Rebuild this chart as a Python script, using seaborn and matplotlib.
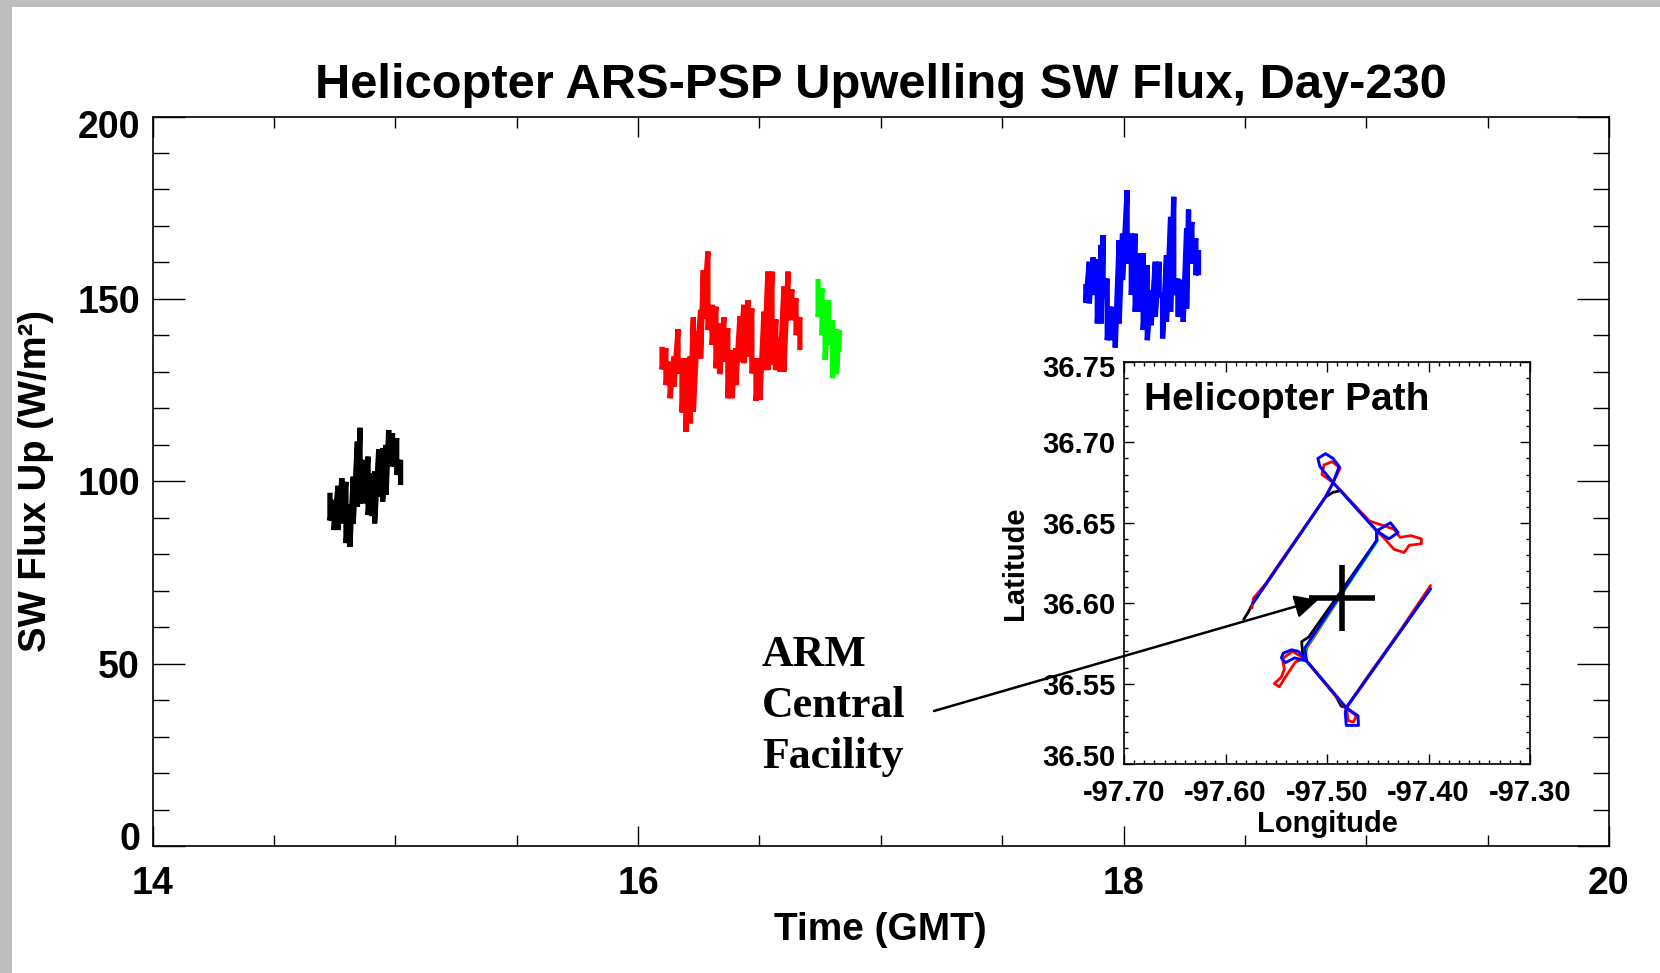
# %%
import matplotlib
matplotlib.use('Agg')
import matplotlib.pyplot as plt
import pandas as pd
import seaborn as sns
from matplotlib.patches import Rectangle
from matplotlib.ticker import MultipleLocator
from matplotlib.transforms import ScaledTranslation

# flux segments: time plus the top and bottom of the noisy band
black_t = [14.731, 14.748, 14.764, 14.780, 14.797, 14.813, 14.827, 14.844, 14.855, 14.871,
           14.888, 14.904, 14.915, 14.932, 14.948, 14.962, 14.973, 14.989, 15.006, 15.022]
black_hi = [96.9, 94.9, 98.8, 100.9, 99.9, 93.6, 101.3, 110.9, 114.7, 105.9,
            106.8, 102.2, 102.7, 108.8, 109.1, 110.0, 114.1, 113.2, 111.8, 105.9]
black_lo = [89.3, 86.7, 86.7, 88.5, 83.1, 82.1, 88.5, 93.1, 94.0, 94.0,
            90.8, 90.5, 88.5, 95.8, 94.5, 96.3, 105.9, 104.1, 101.8, 99.0]

red_t = [16.099, 16.115, 16.132, 16.148, 16.165, 16.181, 16.197, 16.214, 16.228, 16.244, 16.258, 16.269,
         16.288, 16.305, 16.321, 16.337, 16.354, 16.370, 16.387, 16.403, 16.420, 16.436, 16.453, 16.469,
         16.486, 16.502, 16.519, 16.535, 16.552, 16.568, 16.585, 16.601, 16.618, 16.634, 16.651, 16.667]
red_hi = [136.9, 136.5, 132.8, 134.2, 141.7, 133.7, 133.7, 134.2, 145.0, 141.0, 147.0, 157.9,
          163.0, 148.4, 147.9, 143.3, 145.0, 142.0, 136.0, 136.5, 145.3, 148.4, 149.7, 147.4,
          133.7, 133.7, 146.5, 157.5, 157.5, 144.4, 139.2, 153.4, 157.5, 152.6, 150.2, 145.0]
red_lo = [130.7, 126.4, 122.8, 126.0, 129.6, 118.9, 113.6, 115.9, 119.1, 133.7, 133.7, 144.7,
          141.5, 137.4, 131.0, 129.4, 132.8, 122.8, 122.8, 126.4, 132.8, 132.4, 134.2, 129.6,
          122.1, 122.3, 130.5, 130.5, 131.9, 130.5, 130.1, 130.1, 144.2, 144.2, 140.1, 136.0]

green_t = [16.742, 16.758, 16.771, 16.785, 16.801, 16.818, 16.828]
green_hi = [155.5, 152.9, 149.5, 149.7, 144.2, 141.7, 141.5]
green_lo = [145.1, 140.1, 133.3, 137.4, 128.3, 129.4, 135.6]

blue_t = [17.845, 17.859, 17.875, 17.892, 17.908, 17.916, 17.933, 17.949, 17.966, 17.982, 17.996,
          18.015, 18.032, 18.048, 18.065, 18.081, 18.098, 18.114, 18.131, 18.147, 18.161,
          18.177, 18.194, 18.207, 18.224, 18.246, 18.260, 18.268, 18.282, 18.298, 18.309]
blue_hi = [154.1, 160.2, 161.4, 160.8, 164.8, 167.5, 155.6, 147.9, 146.9, 166.1, 167.9,
           179.8, 167.9, 167.9, 162.5, 162.5, 159.3, 152.4, 160.2, 160.2, 151.1,
           162.0, 172.5, 178.0, 155.6, 155.2, 169.3, 174.5, 171.1, 166.6, 163.4]
blue_lo = [149.0, 148.8, 151.1, 143.3, 143.3, 150.1, 138.7, 138.7, 136.7, 143.3, 155.2,
           159.7, 151.1, 146.5, 146.5, 141.5, 138.7, 142.8, 145.1, 151.1, 139.2,
           143.7, 146.5, 151.1, 145.1, 143.7, 147.4, 164.8, 159.7, 156.5, 156.5]

# helicopter path, same colours as the flux segments
blue_lon = [-97.573, -97.5015, -97.494, -97.488, -97.494, -97.5015, -97.509, -97.507, -97.494, -97.451,
            -97.4375, -97.430, -97.439, -97.451, -97.451, -97.522, -97.520, -97.528, -97.535, -97.543,
            -97.545, -97.541, -97.532, -97.520, -97.481, -97.4695, -97.469, -97.481, -97.482, -97.481, -97.398]
blue_lat = [36.600, 36.666, 36.675, 36.685, 36.690, 36.693, 36.690, 36.685, 36.675, 36.645,
            36.650, 36.644, 36.640, 36.645, 36.639, 36.572, 36.564, 36.570, 36.571, 36.569,
            36.566, 36.563, 36.566, 36.564, 36.535, 36.530, 36.524, 36.524, 36.532, 36.535, 36.609]

red_lon = [-97.574, -97.5725, -97.560, -97.546, -97.5015, -97.494, -97.487, -97.495, -97.503, -97.505, -97.494,
           -97.458, -97.443, -97.434, -97.428, -97.417, -97.407, -97.407, -97.419, -97.424, -97.434,
           -97.443, -97.451, -97.451, -97.520, -97.522, -97.534, -97.544, -97.542, -97.545, -97.552,
           -97.547, -97.539, -97.531, -97.522, -97.490, -97.482, -97.471, -97.474, -97.479, -97.481,
           -97.462, -97.430, -97.398]
red_lat = [36.597, 36.603, 36.6125, 36.6255, 36.666, 36.675, 36.684, 36.688, 36.686, 36.680, 36.675,
           36.651, 36.648, 36.646, 36.641, 36.642, 36.640, 36.637, 36.636, 36.6315, 36.6335,
           36.640, 36.645, 36.639, 36.572, 36.5655, 36.570, 36.5655, 36.559, 36.554, 36.550,
           36.548, 36.556, 36.5635, 36.5655, 36.541, 36.535, 36.530, 36.526, 36.527, 36.535,
           36.5525, 36.581, 36.611]

black_lon = [-97.582, -97.578, -97.573, -97.5015, -97.494, -97.4864, -97.451, -97.451,
             -97.518, -97.525, -97.524, -97.520, -97.492, -97.486, -97.481, -97.398]
black_lat = [36.590, 36.594, 36.600, 36.666, 36.669, 36.670, 36.645, 36.639,
             36.579, 36.576, 36.569, 36.564, 36.543, 36.536, 36.535, 36.609]

green_lon = [-97.450, -97.521, -97.521]
green_lat = [36.639, 36.572, 36.564]

site_lon = [-97.485]
site_lat = [36.603]

title = 'Helicopter ARS-PSP Upwelling SW Flux, Day-230'

# %%
sns.set_theme(style='white')
plt.rcParams['font.family'] = ['Liberation Sans', 'DejaVu Sans']
plt.rcParams['font.weight'] = 'bold'
plt.rcParams['text.color'] = 'black'
plt.rcParams['axes.labelcolor'] = 'black'
plt.rcParams['xtick.color'] = 'black'
plt.rcParams['ytick.color'] = 'black'
plt.rcParams['axes.unicode_minus'] = False

W, H = 1660, 973
fig = plt.figure(figsize=(W / 100, H / 100), dpi=100)


def box(l, t, r, b):
    return [l / W, 1 - b / H, (r - l) / W, (b - t) / H]


def nudge(label, px):
    # the end labels sit inside the axis range, not on their tick
    label.set_transform(label.get_transform() + ScaledTranslation(0, px / 100, fig.dpi_scale_trans))


# gray page edge
fig.add_artist(Rectangle((0, 1 - 7 / H), 1, 7 / H, transform=fig.transFigure, color='#bebebe', lw=0))
fig.add_artist(Rectangle((0, 0), 12 / W, 1, transform=fig.transFigure, color='#bebebe', lw=0))

ax = fig.add_axes(box(152.5, 116.5, 1609, 846.4))
for t, hi, lo, c in [(black_t, black_hi, black_lo, 'black'), (red_t, red_hi, red_lo, 'red'),
                     (green_t, green_hi, green_lo, '#00ff00'), (blue_t, blue_hi, blue_lo, 'blue')]:
    # every column goes top to bottom, so the band reads as the solid noisy trace
    df = pd.DataFrame({'t': [v for v in t for _ in (0, 1)],
                       'f': [v for pair in zip(hi, lo) for v in pair]})
    sns.lineplot(df, x='t', y='f', ax=ax, color=c, lw=3.8, sort=False, estimator=None,
                 solid_capstyle='butt', solid_joinstyle='bevel')

ax.set_xlim(14, 20)
ax.set_ylim(0, 200)
ax.xaxis.set_major_locator(MultipleLocator(2))
ax.xaxis.set_minor_locator(MultipleLocator(0.5))
ax.yaxis.set_major_locator(MultipleLocator(50))
ax.yaxis.set_minor_locator(MultipleLocator(10))
ax.tick_params(which='both', direction='in', width=1, top=True, right=True, left=True, bottom=True)
ax.tick_params(axis='x', which='major', length=14.5, labelsize=27, pad=14)
ax.tick_params(axis='x', which='minor', length=8)
ax.tick_params(axis='y', which='major', length=23, labelsize=27, pad=9)
ax.tick_params(axis='y', which='minor', length=11.5)
ax.set_xlabel('Time (GMT)', fontsize=28, fontweight='bold', labelpad=7)
ax.set_ylabel('SW Flux Up (W/m²)', fontsize=27.5, fontweight='bold', labelpad=17)
ax.set_title(title, fontsize=35.2, fontweight='bold', pad=13)
for s in ax.spines.values():
    s.set_color('black')
    s.set_linewidth(1.2)
ylabels = ax.get_yticklabels()
nudge(ylabels[1], 10)
nudge(ylabels[-2], -8)

# %%
inset = fig.add_axes(box(1124, 362, 1530, 764))
for x, y, c, lw in [(black_lon, black_lat, 'black', 2), (red_lon, red_lat, 'red', 2),
                    (green_lon, green_lat, '#00ff00', 2), (blue_lon, blue_lat, 'blue', 2.1)]:
    df = pd.DataFrame({'lon': x, 'lat': y})
    sns.lineplot(df, x='lon', y='lat', ax=inset, color=c, lw=lw, sort=False, estimator=None)
inset.plot(site_lon, site_lat, marker='+', color='black', ms=47, mew=4)

inset.set_xlim(-97.70, -97.30)
inset.set_ylim(36.50, 36.75)
inset.set(xlabel='', ylabel='')
inset.xaxis.set_major_locator(MultipleLocator(0.1))
inset.xaxis.set_minor_locator(MultipleLocator(0.01))
inset.yaxis.set_major_locator(MultipleLocator(0.05))
inset.yaxis.set_minor_locator(MultipleLocator(0.01))
inset.xaxis.set_major_formatter('{x:.2f}')
inset.yaxis.set_major_formatter('{x:.2f}')
inset.tick_params(which='major', direction='in', length=7, width=1, top=True, right=True, left=True, bottom=True, labelsize=21)
inset.tick_params(which='minor', direction='in', length=3, width=1, top=True, right=True, left=True, bottom=True)
inset.tick_params(axis='x', which='major', pad=11)
inset.tick_params(axis='y', which='major', pad=6)
inset.set_xlabel('Longitude', fontsize=21, fontweight='bold', labelpad=2)
inset.set_ylabel('Latitude', fontsize=21, fontweight='bold', labelpad=10)
inset.text(0.05, 0.905, 'Helicopter Path', transform=inset.transAxes, fontsize=28, fontweight='bold', va='center')
for s in inset.spines.values():
    s.set_color('black')
    s.set_linewidth(1.2)
inset.patch.set_alpha(0)
ylabels = inset.get_yticklabels()
nudge(ylabels[1], 9)
nudge(ylabels[-2], -4)

# annotation
fig.text(762 / W, 1 - 706 / H, 'ARM\nCentral\nFacility', family='Liberation Serif', fontweight='bold', fontsize=31.6,
         va='center', ha='left', linespacing=1.36)
inset.annotate('', xy=(1318 / W, 1 - 600 / H), xytext=(934 / W, 1 - 711 / H), xycoords='figure fraction',
               textcoords='figure fraction', annotation_clip=False,
               arrowprops=dict(arrowstyle='-|>,head_length=1.0,head_width=0.5', mutation_scale=14, color='black',
                               lw=1.8, shrinkA=0, shrinkB=0))

fig.savefig('out.png', dpi=100)
